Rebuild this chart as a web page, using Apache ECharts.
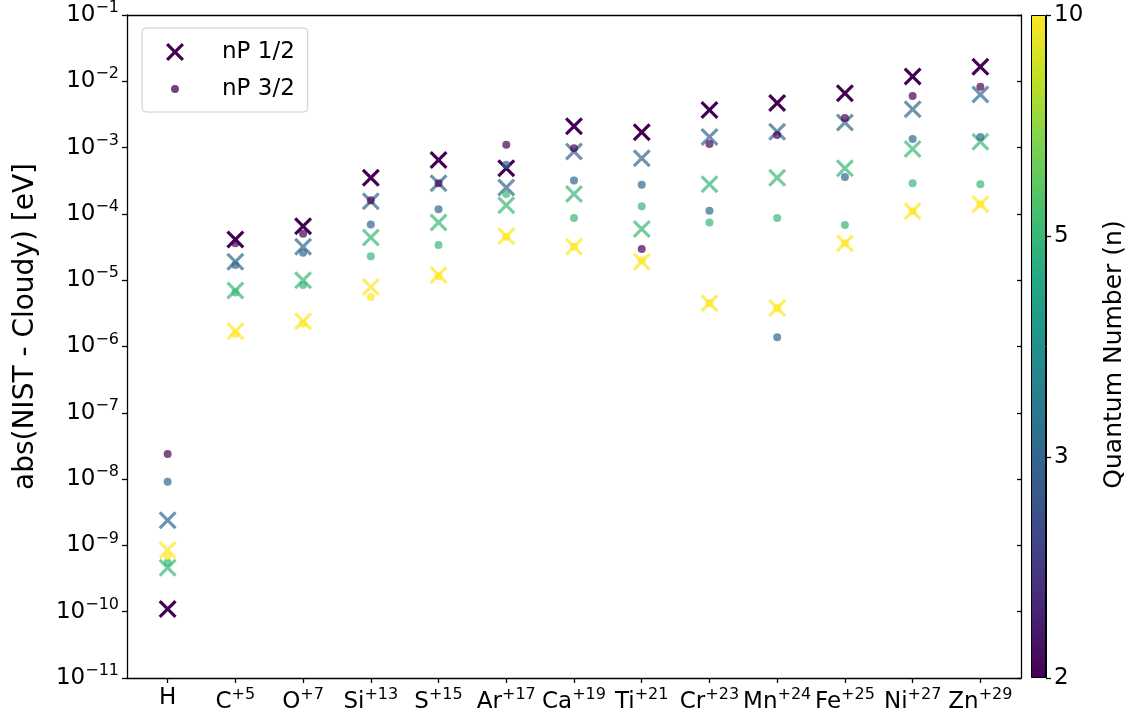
<!DOCTYPE html>
<html><head><meta charset="utf-8">
<script src="https://cdn.jsdelivr.net/npm/echarts@6/dist/echarts.min.js"></script>
<style>html,body{margin:0;padding:0;background:#fff}#c{width:1138px;height:717px}</style>
</head><body><div id="c"></div>
<script>
// ---- data ----
const categories = ['H','C','O','Si','S','Ar','Ca','Ti','Cr','Mn','Fe','Ni','Zn'];
const charges    = ['', '+5', '+7', '+13', '+15', '+17', '+19', '+21', '+23', '+24', '+25', '+27', '+29'];
const quantumNumbers = [2, 3, 5, 10];
// nP 1/2 (x markers)
const p12_n2  = [1.1e-10, 4.1e-5, 6.5e-5, 3.5e-4, 6.5e-4, 4.9e-4, 2.1e-3, 1.7e-3, 3.7e-3, 4.7e-3, 6.6e-3, 1.18e-2, 1.66e-2];
const p12_n3  = [2.4e-9, 1.9e-5, 3.2e-5, 1.55e-4, 2.9e-4, 2.5e-4, 8.7e-4, 6.9e-4, 1.45e-3, 1.74e-3, 2.4e-3, 3.8e-3, 6.3e-3];
const p12_n5  = [4.6e-10, 7.0e-6, 1.0e-5, 4.4e-5, 7.4e-5, 1.35e-4, 2.0e-4, 5.9e-5, 2.8e-4, 3.5e-4, 4.9e-4, 9.5e-4, 1.23e-3];
const p12_n10 = [8.5e-10, 1.7e-6, 2.4e-6, 7.9e-6, 1.2e-5, 4.6e-5, 3.2e-5, 1.9e-5, 4.5e-6, 3.8e-6, 3.6e-5, 1.1e-4, 1.4e-4];
// nP 3/2 (dots)
const p32_n2  = [2.4e-8, 3.6e-5, 5.0e-5, 1.6e-4, 2.9e-4, 1.1e-3, 9.8e-4, 2.95e-5, 1.13e-3, 1.55e-3, 2.8e-3, 6.0e-3, 8.3e-3];
const p32_n3  = [9.1e-9, 1.7e-5, 2.6e-5, 6.9e-5, 1.18e-4, 5.5e-4, 3.2e-4, 2.75e-4, 1.12e-4, 1.38e-6, 3.6e-4, 1.35e-3, 1.45e-3];
const p32_n5  = [5.5e-10, 6.5e-6, 8.5e-6, 2.3e-5, 3.4e-5, 2.0e-4, 8.7e-5, 1.3e-4, 7.4e-5, 8.7e-5, 6.8e-5, 2.9e-4, 2.8e-4];
const p32_n10 = [6.9e-10, 1.55e-6, 2.2e-6, 5.6e-6, 1.15e-5, 4.5e-5, 3.2e-5, 2.0e-5, 4.5e-6, 3.8e-6, 3.6e-5, 1.1e-4, 1.4e-4];
const yTicks  = [1e-11, 1e-10, 1e-9, 1e-8, 1e-7, 1e-6, 1e-5, 1e-4, 1e-3, 1e-2, 1e-1];
const cbTicks = [2, 3, 5, 10];

const p12 = [p12_n2, p12_n3, p12_n5, p12_n10];
const p32 = [p32_n2, p32_n3, p32_n5, p32_n10];

// ---- viridis colormap ----
const viridis = ['#440154','#482475','#414487','#355f8d','#2a788e','#21918c','#22a884','#44bf70','#7ad151','#bddf26','#fde725'];
function hex2rgb(h){return [parseInt(h.slice(1,3),16),parseInt(h.slice(3,5),16),parseInt(h.slice(5,7),16)];}
function cmap(t){
  t = Math.max(0, Math.min(1, t));
  const p = t*(viridis.length-1), i = Math.min(Math.floor(p), viridis.length-2), f = p-i;
  const a = hex2rgb(viridis[i]), b = hex2rgb(viridis[i+1]);
  return 'rgb(' + a.map((v,k)=>Math.round(v+(b[k]-v)*f)).join(',') + ')';
}
function norm(n){ return cbTicks.indexOf(n)/(cbTicks.length-1); }

const FONT = 'DejaVu Sans';
const xPath = 'path://M0,2.5 L2.5,0 L10,7.5 L17.5,0 L20,2.5 L12.5,10 L20,17.5 L17.5,20 L10,12.5 L2.5,20 L0,17.5 L7.5,10 Z';
const dotIcon = 'path://M0,0 L0.01,0 L0,0.01 Z M20,20 L19.99,20 L20,19.99 Z M10,5.6 A4.4,4.4 0 1 1 9.99,5.6 Z';

const series = [];
quantumNumbers.forEach((n, k) => {
  series.push({
    type: 'scatter', name: k === 0 ? 'nP 1/2' : 'nP 1/2 n' + n,
    xAxisIndex: 0, yAxisIndex: 0,
    symbol: xPath, symbolSize: 18,
    itemStyle: { color: cmap(norm(n)), opacity: n === 2 ? 1 : 0.7 },
    data: p12[k].map((v, i) => [i, v]), z: 2
  });
});
quantumNumbers.forEach((n, k) => {
  series.push({
    type: 'scatter', name: k === 0 ? 'nP 3/2' : 'nP 3/2 n' + n,
    xAxisIndex: 0, yAxisIndex: 0,
    symbol: 'circle', symbolSize: 8,
    itemStyle: { color: cmap(norm(n)), opacity: 0.7 },
    data: p32[k].map((v, i) => [i, v]), z: 3
  });
});
// colorbar
const stops = viridis.map((c, i) => ({ offset: i/(viridis.length-1), color: c }));
series.push({
  type: 'bar', xAxisIndex: 2, yAxisIndex: 2, data: [1], barWidth: '100%', silent: true,
  itemStyle: { color: new echarts.graphic.LinearGradient(0, 1, 0, 0, stops), borderColor: '#000', borderWidth: 1 }
});

const supRich = { s: { fontFamily: FONT, fontSize: 16, color: '#000', padding: [0, 0, 14, 0] } };
const black = { color: '#000', width: 1.3 };

const option = {
  animation: false,
  backgroundColor: '#fff',
  grid: [
    { left: 127, right: 117, top: 15, bottom: 39 },
    { left: 1031, width: 15, top: 15, bottom: 39 }
  ],
  xAxis: [
    { type: 'value', gridIndex: 0, min: -0.6, max: 12.6,
      axisLine: { onZero: false, lineStyle: black },
      axisTick: { length: 5, lineStyle: black, customValues: categories.map((c, i) => i) },
      splitLine: { show: false },
      axisLabel: { customValues: categories.map((c, i) => i), margin: 9, color: '#000', fontFamily: FONT, fontSize: 23,
        formatter: v => { const i = Math.round(v); return charges[i] ? categories[i] + '{s|' + charges[i] + '}' : categories[i]; },
        rich: supRich }
    },
    { type: 'value', gridIndex: 0, position: 'top', min: -0.6, max: 12.6,
      axisLine: { show: true, onZero: false, lineStyle: black },
      axisTick: { show: false }, axisLabel: { show: false }, splitLine: { show: false } },
    { type: 'category', gridIndex: 1, data: ['cb'], show: false }
  ],
  yAxis: [
    { type: 'log', gridIndex: 0, logBase: 10, min: 1e-11, max: 1e-1, position: 'left',
      name: 'abs(NIST - Cloudy) [eV]', nameLocation: 'middle', nameRotate: 90, nameGap: 87,
      nameTextStyle: { fontFamily: FONT, fontSize: 28, color: '#000', padding: [0, 0, 0, 40] },
      axisLine: { show: true, onZero: false, lineStyle: black },
      axisTick: { show: true, length: 5, lineStyle: black, customValues: yTicks },
      minorTick: { show: false }, splitLine: { show: false },
      axisLabel: { customValues: yTicks, margin: 8, color: '#000', fontFamily: FONT, fontSize: 23, rich: supRich,
        formatter: v => '10{s|\u2212' + Math.abs(Math.round(Math.log10(v))) + '}' } },
    { type: 'log', gridIndex: 0, logBase: 10, min: 1e-11, max: 1e-1, position: 'right',
      axisLine: { show: true, onZero: false, lineStyle: black },
      axisTick: { show: true, inside: true, length: 4, lineStyle: black, customValues: yTicks },
      axisLabel: { show: false }, splitLine: { show: false } },
    { type: 'value', gridIndex: 1, min: 0, max: 1, position: 'right',
      name: 'Quantum Number (n)', nameLocation: 'middle', nameRotate: 90, nameGap: 56,
      nameTextStyle: { fontFamily: FONT, fontSize: 25, color: '#000', padding: [0, 16, 0, 0] },
      axisLine: { show: true, onZero: false, lineStyle: { color: '#000', width: 1 } },
      axisTick: { show: true, length: 5, lineStyle: black, customValues: cbTicks.map(norm) },
      splitLine: { show: false },
      axisLabel: { customValues: cbTicks.map(norm), margin: 8, color: '#000', fontFamily: FONT, fontSize: 23,
        formatter: v => { let best = cbTicks[0]; cbTicks.forEach(n => { if (Math.abs(norm(n) - v) < Math.abs(norm(best) - v)) best = n; }); return String(best); } } }
  ],
  legend: {
    data: [
      { name: 'nP 1/2', icon: xPath, itemStyle: { color: cmap(norm(2)), opacity: 1 } },
      { name: 'nP 3/2', icon: dotIcon, itemStyle: { color: cmap(norm(2)), opacity: 0.75 } }
    ],
    orient: 'vertical', left: 142, top: 28, itemWidth: 18, itemHeight: 18, itemGap: 11,
    padding: [11, 13, 10, 24],
    backgroundColor: 'rgba(255,255,255,0.8)', borderColor: '#cccccc', borderWidth: 1, borderRadius: 4,
    textStyle: { fontFamily: FONT, fontSize: 23, lineHeight: 26, color: '#000', padding: [0, 0, 0, 33] }
  },
  series: series
};
const chart = echarts.init(document.getElementById('c'), null, { renderer: 'canvas' });
chart.setOption(option);
</script></body></html>
